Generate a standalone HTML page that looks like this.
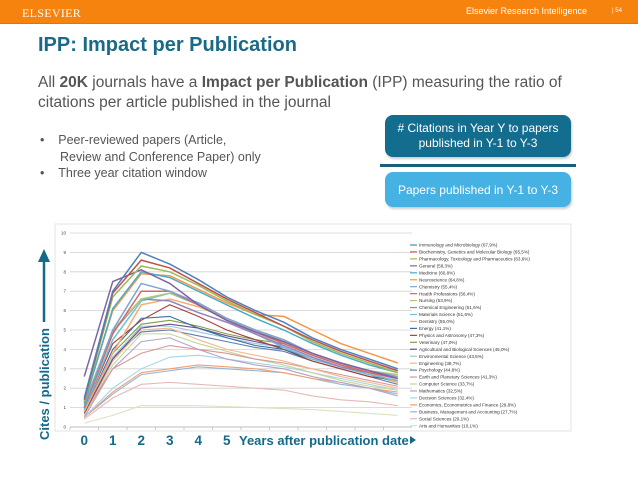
<!DOCTYPE html>
<html><head><meta charset="utf-8">
<style>
body{margin:0;width:638px;height:479px;overflow:hidden;background:#fff;font-family:"Liberation Sans",sans-serif;position:relative}
.abs{position:absolute}
</style></head><body>
<div class="abs" style="left:0;top:0;width:638px;height:23px;background:#f7830f;border-bottom:1px solid #e2740a"></div>
<div class="abs" style="left:22px;top:6px;font-family:'Liberation Serif',serif;font-size:12px;color:#fff;letter-spacing:0.3px">ELSEVIER</div>
<div class="abs" style="left:466px;top:6px;font-size:9px;color:#fff">Elsevier Research Intelligence</div>
<div class="abs" style="left:612px;top:8px;font-size:6px;color:#fff">| 54</div>
<div class="abs" style="left:38px;top:34px;font-size:20px;font-weight:bold;color:#1a6a87">IPP: Impact per Publication</div>
<div class="abs" style="left:38px;top:73px;width:580px;font-size:15.5px;line-height:19.5px;color:#555">All <b>20K</b> journals have a <b>Impact per Publication</b> (IPP) measuring the ratio of citations per article published in the journal</div>
<div class="abs" style="left:40px;top:132px;font-size:12.5px;line-height:16.5px;color:#555">
<div>•&nbsp;&nbsp;&nbsp;&nbsp;Peer-reviewed papers (Article,</div>
<div style="padding-left:20px">Review and Conference Paper) only</div>
<div>•&nbsp;&nbsp;&nbsp;&nbsp;Three year citation window</div></div>
<div class="abs" style="left:385px;top:115px;width:186px;height:42px;background:#136d8f;border-radius:8px;color:#fff;font-size:12px;line-height:15px;text-align:center;display:flex;align-items:center;justify-content:center;box-shadow:1px 2px 2px #ccc">#&nbsp;Citations in Year Y to papers<br>published in Y-1 to Y-3</div>
<div class="abs" style="left:380px;top:164px;width:196px;height:3px;background:#1a5f7a"></div>
<div class="abs" style="left:385px;top:172px;width:186px;height:35px;background:#45b2e3;border-radius:8px;color:#fff;font-size:12px;display:flex;align-items:center;justify-content:center;box-shadow:1px 2px 2px #ccc">Papers published in Y-1 to Y-3</div>

<svg class="abs" style="left:0;top:0" width="638" height="479" id="chart">
<rect x="55" y="224" width="516" height="207" fill="#fff" stroke="#ddd" stroke-width="0.8"/>
<g id="grid"></g><g id="lines"></g><g id="legend"></g><g id="ticks"></g>
<g>
<line x1="44" y1="322" x2="44" y2="258" stroke="#15698a" stroke-width="2.5"/>
<polygon points="38,262 44,249 50,262" fill="#15698a"/>
<text x="49" y="440" transform="rotate(-90 49 440)" font-size="13" font-weight="bold" fill="#15698a">Cites / publication</text>
</g>
<text x="239" y="445" font-size="13" font-weight="bold" fill="#15698a">Years after publication date</text>
<polygon points="410,436 416,440 410,444" fill="#15698a"/>
</svg>
<script>
const years=[0,1,2,3,4,5,6,7,8,9,10,11];
const yTicks=[0,1,2,3,4,5,6,7,8,9,10];
const xLabels=["0","1","2","3","4","5"];
const names=["Immunology and Microbiology (67,9%)","Biochemistry, Genetics and Molecular Biology (65,5%)","Pharmacology, Toxicology and Pharmaceutics (63,6%)","General (58,3%)","Medicine (60,8%)","Neuroscience (64,8%)","Chemistry (55,4%)","Health Professions (56,4%)","Nursing (53,9%)","Chemical Engineering (51,6%)","Materials Science (51,6%)","Dentistry (55,0%)","Energy (41,1%)","Physics and Astronomy (47,3%)","Veterinary (47,0%)","Agricultural and Biological Sciences (45,0%)","Environmental Science (43,5%)","Engineering (38,7%)","Psychology (44,8%)","Earth and Planetary Sciences (41,3%)","Computer Science (33,7%)","Mathematics (32,5%)","Decision Sciences (32,4%)","Economics, Econometrics and Finance (29,8%)","Business, Management and Accounting (27,7%)","Social Sciences (20,1%)","Arts and Humanities (10,1%)"];
const s01=[1.5,7.0,9.0,8.4,7.6,6.7,6.0,5.4,4.6,4.0,3.5,3.0];
const s02=[1.4,6.9,8.6,8.2,7.4,6.6,5.9,5.2,4.5,3.9,3.4,2.9];
const s03=[1.3,6.7,8.3,8.0,7.3,6.5,5.8,5.2,4.4,3.8,3.3,2.8];
const s04=[2.6,7.5,8.1,7.4,6.3,5.5,4.9,4.4,3.8,3.3,2.9,2.5];
const s05=[1.2,6.1,8.0,7.7,7.0,6.3,5.6,5.0,4.3,3.7,3.2,2.8];
const s06=[1.3,6.0,7.9,7.8,7.1,6.4,5.8,5.7,5.0,4.3,3.8,3.3];
const s07=[1.1,5.0,7.4,7.0,6.4,5.6,5.0,4.5,3.8,3.3,2.9,2.6];
const s08=[1.0,4.8,7.0,7.0,6.3,5.5,4.9,4.3,3.7,3.2,2.8,2.5];
const s09=[1.2,5.0,6.6,6.9,6.4,5.6,5.0,4.4,3.8,3.3,2.9,2.7];
const s10=[1.0,4.9,6.6,6.5,5.9,5.4,4.8,4.2,3.6,3.1,2.8,2.6];
const s11=[0.9,4.5,6.5,6.9,6.3,5.5,4.8,4.1,3.5,3.1,2.7,2.4];
const s12=[0.8,3.8,6.3,6.6,6.2,5.6,5.0,4.4,3.8,3.3,2.8,2.3];
const s13=[0.8,4.0,5.6,5.7,5.1,4.6,4.2,4.0,3.5,3.1,2.7,2.3];
const s14=[0.9,4.3,5.5,6.3,5.7,5.0,4.5,4.0,3.4,3.0,2.6,2.4];
const s15=[0.8,3.8,5.3,5.5,5.2,4.8,4.5,4.3,3.7,3.2,2.8,2.3];
const s16=[0.7,3.5,5.1,5.3,5.1,4.7,4.4,4.1,3.5,3.1,2.8,2.5];
const s17=[0.9,3.6,5.2,5.2,4.9,4.6,4.3,4.1,3.5,3.1,2.7,2.3];
const s18=[0.6,3.4,5.0,5.1,4.5,4.0,3.7,3.4,3.0,2.6,2.3,2.0];
const s19=[0.8,3.6,4.9,5.0,4.7,4.4,4.1,3.9,3.4,3.0,2.6,2.2];
const s20=[0.7,3.0,3.8,4.2,4.0,3.8,3.5,3.3,3.0,2.7,2.4,2.1];
const s21=[0.6,3.2,4.8,4.8,4.3,3.9,3.5,3.2,2.8,2.4,2.1,1.9];
const s22=[0.5,3.0,4.4,4.6,4.0,3.5,3.2,3.0,2.6,2.3,2.0,1.6];
const s23=[0.5,2.0,3.0,3.6,3.7,3.5,3.3,3.1,2.8,2.5,2.2,1.9];
const s24=[0.5,1.8,2.8,3.0,3.2,3.1,3.0,2.8,2.5,2.3,2.0,1.8];
const s25=[0.5,1.7,2.7,2.9,3.1,3.0,2.9,2.8,2.5,2.2,2.0,1.7];
const s26=[0.4,1.5,2.2,2.3,2.2,2.1,2.0,1.9,1.6,1.4,1.3,1.1];
const s27=[0.2,0.6,1.1,1.1,1.1,1.05,1.0,0.95,0.9,0.8,0.7,0.6];
const series=[s01,s02,s03,s04,s05,s06,s07,s08,s09,s10,s11,s12,s13,s14,s15,s16,s17,s18,s19,s20,s21,s22,s23,s24,s25,s26,s27];
const colors=["#4F81BD","#C0504D","#9BBB59","#8064A2","#4BACC6","#F79646","#7EA3D6","#D46A67","#AECB73","#9884B8","#6EC0D6","#F9AC6D","#3A6BA6","#A63E3B","#80A040","#6A4E8C","#95C8DA","#F3B88A","#5D7FB0","#D99694","#C3D69B","#B3A2C7","#A5D5E6","#F0A070","#95B3D7","#E6B9B8","#D7E4BD"];
const NS="http://www.w3.org/2000/svg";
const X0=70,CW=28.5,Y0=427,YU=19.4;
function xs(i){return X0+CW*(i+0.5);}
function ys(v){return Y0-v*YU;}
const grid=document.getElementById('grid'),ticks=document.getElementById('ticks'),lines=document.getElementById('lines'),legend=document.getElementById('legend');
yTicks.forEach(v=>{
 const l=document.createElementNS(NS,'line');
 
 
 l.setAttribute('x1',X0);l.setAttribute('x2',X0+CW*12);l.setAttribute('y1',ys(v));l.setAttribute('y2',ys(v));
 l.setAttribute('stroke',v===0?'#aaa':'#d0d0d0');l.setAttribute('stroke-width','0.8');grid.appendChild(l);
 const t=document.createElementNS(NS,'text');
 
 
 t.setAttribute('x',X0-4);t.setAttribute('y',ys(v)+1.5);t.setAttribute('font-size','4.5');t.setAttribute('text-anchor','end');t.setAttribute('fill','#444');t.textContent=v;ticks.appendChild(t);
});
years.forEach((y,i)=>{
 const l=document.createElementNS(NS,'line');
 
 
 l.setAttribute('x1',X0+CW*i);l.setAttribute('x2',X0+CW*i);l.setAttribute('y1',Y0);l.setAttribute('y2',Y0+3);l.setAttribute('stroke','#aaa');l.setAttribute('stroke-width','0.6');grid.appendChild(l);
});
xLabels.forEach((s,i)=>{
 const t=document.createElementNS(NS,'text');
 
 
 t.setAttribute('x',xs(i));t.setAttribute('y',445);t.setAttribute('font-size','13.5');t.setAttribute('font-weight','bold');t.setAttribute('text-anchor','middle');t.setAttribute('fill','#15698a');t.textContent=s;ticks.appendChild(t);
});
for(let k=series.length-1;k>=0;k--){
 const p=document.createElementNS(NS,'polyline');
 
 
 p.setAttribute('points',series[k].map((v,i)=>xs(i)+','+ys(v)).join(' '));
 p.setAttribute('fill','none');p.setAttribute('stroke',colors[k%colors.length]);p.setAttribute('stroke-width',k<12?'1.5':'1.1');
 lines.appendChild(p);
}
names.forEach((n,k)=>{
 const y=245+k*6.95;
 const l=document.createElementNS(NS,'line');
 
 
 l.setAttribute('x1',410);l.setAttribute('x2',417);l.setAttribute('y1',y);l.setAttribute('y2',y);l.setAttribute('stroke',colors[k%colors.length]);l.setAttribute('stroke-width','1.2');legend.appendChild(l);
 const t=document.createElementNS(NS,'text');
 
 
 t.setAttribute('x',419);t.setAttribute('y',y+1.6);t.setAttribute('font-size','4.6');t.setAttribute('fill','#333');t.textContent=n;legend.appendChild(t);
});
</script>
</body></html>
